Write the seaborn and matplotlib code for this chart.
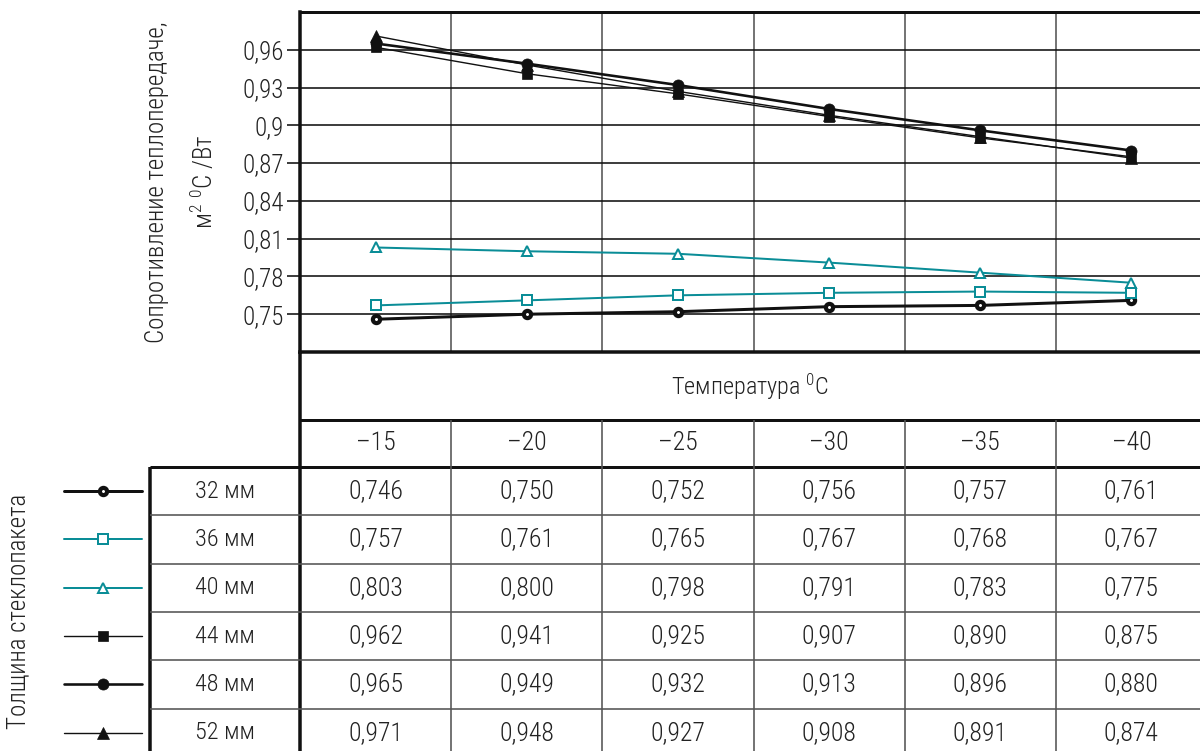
import numpy as np
import pandas as pd
import matplotlib
matplotlib.use("Agg")
import matplotlib.pyplot as plt
import matplotlib.transforms as mtrans
import seaborn as sns

# ---------------- data ----------------
temps = [-15, -20, -25, -30, -35, -40]
temp_labels = ["–15", "–20", "–25", "–30", "–35", "–40"]
thickness_labels = ["32 мм", "36 мм", "40 мм", "44 мм", "48 мм", "52 мм"]
r32 = [0.746, 0.750, 0.752, 0.756, 0.757, 0.761]
r36 = [0.757, 0.761, 0.765, 0.767, 0.768, 0.767]
r40 = [0.803, 0.800, 0.798, 0.791, 0.783, 0.775]
r44 = [0.962, 0.941, 0.925, 0.907, 0.890, 0.875]
r48 = [0.965, 0.949, 0.932, 0.913, 0.896, 0.880]
r52 = [0.971, 0.948, 0.927, 0.908, 0.891, 0.874]
y_ticks = [0.75, 0.78, 0.81, 0.84, 0.87, 0.90, 0.93, 0.96]
y_tick_labels = ["0,75", "0,78", "0,81", "0,84", "0,87", "0,9", "0,93", "0,96"]
series = [r32, r36, r40, r44, r48, r52]

# ---------------- style ----------------
sns.set_style("white")
plt.rcParams["font.family"] = ["Roboto Condensed", "Roboto", "DejaVu Sans"]
plt.rcParams["font.weight"] = "light"
plt.rcParams["mathtext.fontset"] = "custom"
plt.rcParams["mathtext.rm"] = "Roboto Condensed"
plt.rcParams["mathtext.it"] = "Roboto Condensed"
plt.rcParams["mathtext.default"] = "rm"
TEAL = "#0a8d97"
INK = "#111111"
TXT = "#222222"
GRAYLINE = "#555555"
PX = 0.72  # points per pixel at dpi 100
FS_TAB = 18.5
FS_TICK = 18

styles = [
    dict(color=INK, linewidth=3.0 * PX, marker="o", markersize=5.2, markerfacecolor="white",
         markeredgecolor=INK, markeredgewidth=3.0),
    dict(color=TEAL, linewidth=2.0 * PX, marker="s", markersize=6.5, markerfacecolor="white",
         markeredgecolor=TEAL, markeredgewidth=2.0 * PX),
    dict(color=TEAL, linewidth=2.0 * PX, marker="^", markersize=7.5, markerfacecolor="white",
         markeredgecolor=TEAL, markeredgewidth=2.0 * PX),
    dict(color=INK, linewidth=1.4 * PX, marker="s", markersize=7, markerfacecolor=INK,
         markeredgecolor=INK, markeredgewidth=0.5),
    dict(color=INK, linewidth=2.6 * PX, marker="o", markersize=8, markerfacecolor=INK,
         markeredgecolor=INK, markeredgewidth=0.5),
    dict(color=INK, linewidth=1.4 * PX, marker="^", markersize=8, markerfacecolor=INK,
         markeredgecolor=INK, markeredgewidth=0.5),
]

W, H = 1200, 751
fig = plt.figure(figsize=(W / 100, H / 100), dpi=100)

# layout in pixels
PL, PR, PT, PB = 300, 1207, 12, 352
ax = fig.add_axes([PL / W, 1 - PB / H, (PR - PL) / W, (PB - PT) / H])

for lab, vals, st in zip(thickness_labels, series, styles):
    sns.lineplot(x=temps, y=vals, ax=ax, zorder=3, **st)

bounds = [(a + b) / 2 for a, b in zip(temps[:-1], temps[1:])]
ax.set_xlim(temps[0] + 2.5, temps[-1] - 2.5)
ax.set_ylim(0.72, 0.99)
ax.set_yticks(y_ticks)
ax.set_yticklabels(y_tick_labels)
ax.set_xticks(temps)
ax.set_xticklabels([])
ax.set_xticks(bounds, minor=True)
ax.tick_params(axis="x", which="both", length=0)
ax.tick_params(axis="y", length=13 * PX, width=1.6 * PX, pad=2, labelsize=FS_TICK,
               color=INK, labelcolor=TXT, left=True)
ax.set_xlabel("")
ax.set_ylabel("")
ax.grid(False)
ax.grid(True, axis="y", which="major", color=INK, linewidth=1.6 * PX, zorder=1)
ax.grid(True, axis="x", which="minor", color=GRAYLINE, linewidth=1.6 * PX, zorder=1)
for s in ["left", "bottom"]:
    ax.spines[s].set_linewidth(3.5 * PX)
    ax.spines[s].set_color(INK)
ax.spines["top"].set_linewidth(3.0 * PX)
ax.spines["top"].set_color(INK)
ax.spines["right"].set_visible(False)

# y-label (two lines)
ax.text((157 - PL) / (PR - PL), 0.5, "Сопротивление теплопередаче,", transform=ax.transAxes,
        rotation=90, ha="center", va="center", fontsize=18, color=TXT)
ax.text((204 - PL) / (PR - PL), 0.5, r"м$^{2}$ $^{0}$C /Вт", transform=ax.transAxes,
        rotation=90, ha="center", va="center", fontsize=18, color=TXT)

# ---------------- table overlay ----------------
tab = fig.add_axes([0, 0, 1, 1])
tab.set_xlim(0, W)
tab.set_ylim(H, 0)
tab.axis("off")
blend = mtrans.blended_transform_factory(ax.transData, tab.transData)

HDR_TOP, HDR_BOT, TMP_BOT = PB, 420, 467
ROW_H = 48.3
row_tops = [TMP_BOT + i * ROW_H for i in range(len(thickness_labels))]
row_centers = [t + ROW_H / 2 for t in row_tops]

# thick lines
tab.vlines(PL, PB, H, color=INK, linewidth=3.5 * PX)
tab.vlines(150, TMP_BOT, H, color=INK, linewidth=3.5 * PX)
tab.hlines(HDR_BOT, PL, W, color=INK, linewidth=3.0 * PX)
tab.hlines(TMP_BOT, 150, W, color=INK, linewidth=3.0 * PX)
# thin lines
tab.vlines(bounds, HDR_BOT, H, color=GRAYLINE, linewidth=1.6 * PX, transform=blend)
tab.hlines(row_tops[1:], 150, W, color=GRAYLINE, linewidth=1.6 * PX)

tab.text((PL + W) / 2, (HDR_TOP + HDR_BOT) / 2 + 1, r"Температура $^{0}$C", ha="center",
         va="center", fontsize=17.5, color=TXT)
for t, lab in zip(temps, temp_labels):
    tab.text(t, (HDR_BOT + TMP_BOT) / 2, lab, transform=blend, ha="center", va="center",
             fontsize=FS_TAB, color=TXT)

for lab, vals, st, yc in zip(thickness_labels, series, styles, row_centers):
    tab.text(225, yc, lab, ha="center", va="center", fontsize=17.5, color=TXT)
    for t, v in zip(temps, vals):
        tab.text(t, yc, f"{v:.3f}".replace(".", ","), transform=blend, ha="center",
                 va="center", fontsize=FS_TAB, color=TXT)
    tab.plot([64, 102.5, 142], [yc, yc, yc], markevery=[1], **st)

tab.text(18, 611, "Толщина стеклопакета", rotation=90, ha="center", va="center",
         fontsize=18, color=TXT)

fig.savefig("out.png", dpi=100)
